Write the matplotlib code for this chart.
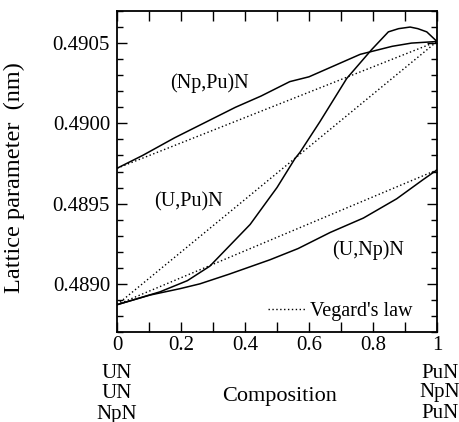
import matplotlib
matplotlib.use("Agg")
import matplotlib.pyplot as plt
from matplotlib.ticker import MultipleLocator, FormatStrFormatter

plt.rcParams['font.family'] = ['Liberation Serif', 'DejaVu Serif']
plt.rcParams['mathtext.fontset'] = 'stix'

# (Np,Pu)N measured/calculated curve
nppu_x = [0.0, 0.08, 0.18, 0.29, 0.37, 0.45, 0.54, 0.60, 0.68, 0.76, 0.80, 0.86, 0.92, 1.0]
nppu_y = [0.48972, 0.48980, 0.48991, 0.49002, 0.49010, 0.49017, 0.49026, 0.49029,
          0.49036, 0.49043, 0.49045, 0.49048, 0.49050, 0.49051]

# (U,Pu)N curve
upu_x = [0.0, 0.134, 0.22, 0.29, 0.353, 0.416, 0.478, 0.50, 0.556, 0.572, 0.634, 0.718,
         0.796, 0.848, 0.88, 0.916, 0.94, 0.968, 1.0]
upu_y = [0.48887, 0.48895, 0.48902, 0.48911, 0.48924, 0.48937, 0.48954, 0.48960, 0.48978,
         0.48982, 0.49001, 0.49028, 0.49046, 0.49057, 0.49059, 0.49060, 0.49059, 0.49057, 0.49051]

# (U,Np)N curve
unp_x = [0.0, 0.103, 0.197, 0.259, 0.35, 0.478, 0.566, 0.666, 0.77, 0.874, 0.957, 1.0]
unp_y = [0.48887, 0.48893, 0.48897, 0.48900, 0.48906, 0.48915, 0.48922, 0.48932,
         0.48941, 0.48953, 0.48965, 0.48971]

# Vegard's law end points
veg_x = [0.0, 1.0]
veg_nppu = [0.48972, 0.49051]
veg_upu = [0.48887, 0.49051]
veg_unp = [0.48887, 0.48971]

fig = plt.figure(figsize=(4.59, 4.22), dpi=100)
ax = fig.add_axes([117/459, 1-332/422, 320/459, 321/422])

lw = 1.1
dot = (0, (1, 1.8))
ax.plot(nppu_x, nppu_y, color='black', lw=lw)
ax.plot(upu_x, upu_y, color='black', lw=lw)
ax.plot(unp_x, unp_y, color='black', lw=lw)
ax.plot(veg_x, veg_nppu, color='black', lw=1.0, linestyle=dot)
ax.plot(veg_x, veg_upu, color='black', lw=1.0, linestyle=dot)
ax.plot(veg_x, veg_unp, color='black', lw=1.0, linestyle=dot, label="Vegard's law")

ax.set_xlim(0, 1)
ax.set_ylim(0.4887, 0.4907)
ax.xaxis.set_major_locator(MultipleLocator(0.2))
ax.xaxis.set_minor_locator(MultipleLocator(0.1))
ax.yaxis.set_major_locator(MultipleLocator(0.0005))
ax.yaxis.set_minor_locator(MultipleLocator(0.0001))
ax.yaxis.set_major_formatter(FormatStrFormatter('%.4f'))
ax.xaxis.set_major_formatter(matplotlib.ticker.FuncFormatter(
    lambda v, p: '0' if abs(v) < 1e-9 else ('1' if abs(v-1) < 1e-9 else f'{v:.1f}')))

ax.tick_params(which='both', direction='in', top=True, right=True, width=1.0, labelsize=15)
ax.tick_params(axis='y', which='major', length=7, pad=5)
ax.tick_params(axis='y', which='minor', length=4)
ax.tick_params(axis='x', which='both', length=7, pad=3)
for s in ax.spines.values():
    s.set_linewidth(1.3)

ax.set_ylabel('Lattice parameter  (nm)', fontsize=17.5)
ax.yaxis.set_label_coords(-0.2875, 0.481)

ax.text(0.29, 0.49025, '(Np,Pu)N', fontsize=14.5, ha='center', va='center')
ax.text(0.222, 0.48951, '(U,Pu)N', fontsize=14.5, ha='center', va='center')
ax.text(0.784, 0.48921, '(U,Np)N', fontsize=14.5, ha='center', va='center')

ax.legend(loc='lower right', frameon=False, fontsize=14.5, handlelength=1.85,
          handletextpad=0.25, borderaxespad=0.2, bbox_to_anchor=(0.9625, -0.002))

fig.text(117/459, 1-373/422, 'UN', fontsize=15, ha='center', va='center')
fig.text(117/459, 1-393/422, 'UN', fontsize=15, ha='center', va='center')
fig.text(117/459, 1-414/422, 'NpN', fontsize=15, ha='center', va='center')
fig.text(440/459, 1-373/422, 'PuN', fontsize=15, ha='center', va='center')
fig.text(440/459, 1-393/422, 'NpN', fontsize=15, ha='center', va='center')
fig.text(440/459, 1-413/422, 'PuN', fontsize=15, ha='center', va='center')
fig.text(280/459, 1-397/422, 'Composition', fontsize=16, ha='center', va='center')

fig.savefig('out.png', dpi=100)
